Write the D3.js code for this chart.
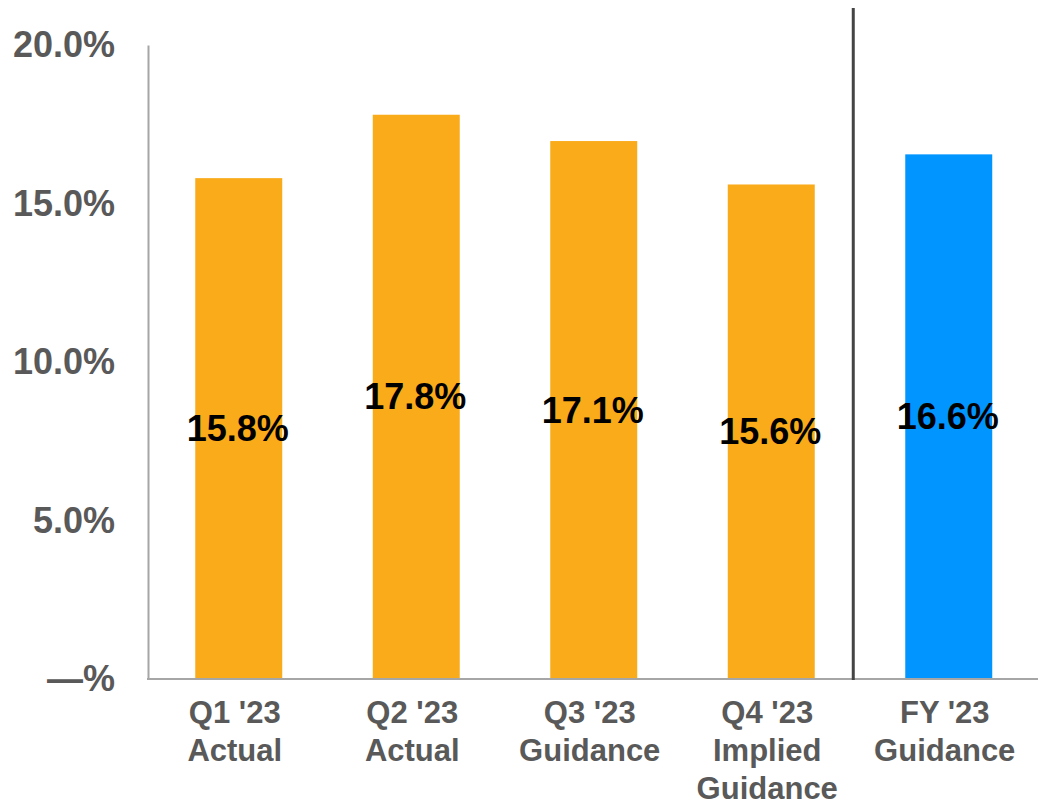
<!DOCTYPE html>
<html>
<head>
<meta charset="utf-8">
<script src="https://cdn.jsdelivr.net/npm/d3@7"></script>
<style>
  body { margin: 0; background: #fff; }
  text { font-family: "Liberation Sans", Arial, sans-serif; font-weight: bold; }
</style>
</head>
<body>
<svg id="chart" width="1038" height="808"></svg>
<script>
'use strict';

// Data
const categories = [
    ["Q1 '23", "Actual"],
    ["Q2 '23", "Actual"],
    ["Q3 '23", "Guidance"],
    ["Q4 '23", "Implied", "Guidance"],
    ["FY '23", "Guidance"]
];
const values      = [15.8, 17.8, 16.97, 15.6, 16.55];
const valueLabels = ["15.8%", "17.8%", "17.1%", "15.6%", "16.6%"];
const barColors   = ["#f9ab19", "#f9ab19", "#f9ab19", "#f9ab19", "#0095ff"];
const yTicks      = [0, 5, 10, 15, 20];
const yTickLabels = ["\u2014%", "5.0%", "10.0%", "15.0%", "20.0%"];

const keys = categories.map(c => c.join(" "));

const svg = d3.select("#chart");

const x = d3.scaleBand()
    .domain(keys)
    .range([150, 1037.5])
    .paddingInner(0.51)
    .paddingOuter(0.255);

const y = d3.scaleLinear()
    .domain([0, 20])
    .range([679, 45]);

// y axis
const yAxis = svg.append("g")
    .attr("transform", "translate(148,0)")
    .call(d3.axisLeft(y)
        .tickValues(yTicks)
        .tickSize(0)
        .tickPadding(33)
        .tickFormat((d, i) => yTickLabels[i]));

yAxis.select(".domain")
    .attr("stroke", "#a6a6a6")
    .attr("stroke-width", 2);

yAxis.selectAll("text")
    .attr("fill", "#595959")
    .style("font-size", "36px")
    .style("font-family", "'Liberation Sans', Arial, sans-serif")
    .style("font-weight", "bold");

// bars
svg.selectAll("rect.bar")
    .data(values)
    .enter()
    .append("rect")
    .attr("class", "bar")
    .attr("x", (d, i) => x(keys[i]))
    .attr("y", d => y(d))
    .attr("width", x.bandwidth())
    .attr("height", d => y(0) - y(d))
    .attr("fill", (d, i) => barColors[i]);

// baseline
svg.append("line")
    .attr("x1", 147)
    .attr("x2", 1038)
    .attr("y1", y(0))
    .attr("y2", y(0))
    .attr("stroke", "#a6a6a6")
    .attr("stroke-width", 2);

// divider between quarters and full year
const divX = x(keys[4]) - 52;
svg.append("line")
    .attr("x1", divX)
    .attr("x2", divX)
    .attr("y1", 8)
    .attr("y2", y(0) + 1)
    .attr("stroke", "#444")
    .attr("stroke-width", 3);

// value labels
svg.selectAll("text.value")
    .data(values)
    .enter()
    .append("text")
    .attr("class", "value")
    .attr("x", (d, i) => x(keys[i]) + x.bandwidth() / 2 - 1)
    .attr("y", d => (y(d) + y(0)) / 2)
    .attr("dy", "0.35em")
    .attr("text-anchor", "middle")
    .attr("fill", "#000")
    .style("font-size", "36px")
    .text((d, i) => valueLabels[i]);

// category labels (sit a little left of the bar centre, as in the original)
const catText = svg.selectAll("text.cat")
    .data(categories)
    .enter()
    .append("text")
    .attr("class", "cat")
    .attr("text-anchor", "middle")
    .attr("fill", "#595959")
    .style("font-size", "31px");

catText.selectAll("tspan")
    .data((d, i) => d.map(line => ({line, cx: x(keys[i]) + x.bandwidth() / 2 - 4})))
    .enter()
    .append("tspan")
    .attr("x", d => d.cx)
    .attr("y", (d, j) => 723 + j * 38)
    .text(d => d.line);
</script>
</body>
</html>
